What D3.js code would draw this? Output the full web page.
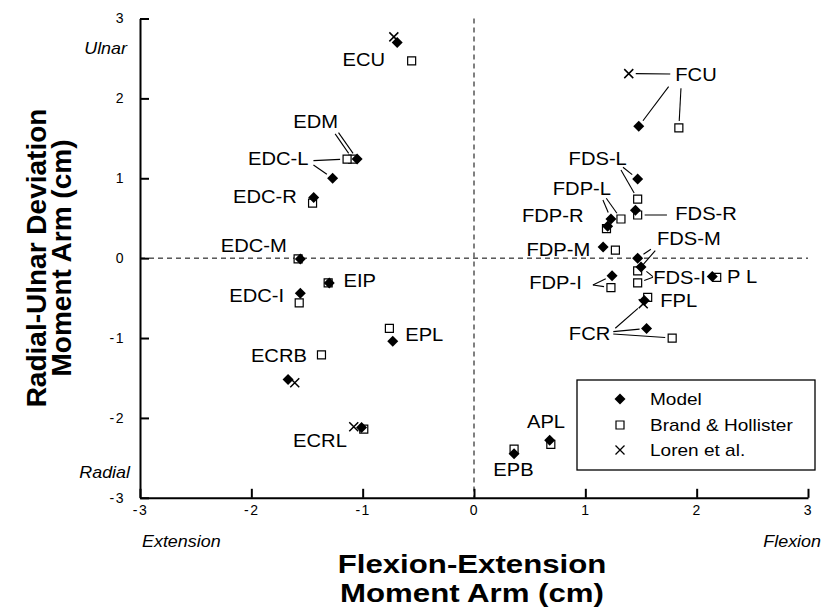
<!DOCTYPE html>
<html>
<head>
<meta charset="utf-8">
<script src="https://cdn.jsdelivr.net/npm/d3@7"></script>
<style>
  html, body { margin: 0; padding: 0; background: #fff; }
  svg { display: block; }
  text { font-family: "Liberation Sans", Arial, Helvetica, sans-serif; fill: #000; }
</style>
</head>
<body>
<svg id="chart" width="825" height="607"></svg>
<script>
// Muscle moment arms at the wrist (cm): flexion-extension (FE) vs radial-ulnar deviation (RU)
const muscles = ["ECU","EDM","EDC-L","EDC-R","EDC-M","EDC-I","EIP","EPL","ECRB","ECRL","EPB","APL",
                 "FCU","FDS-L","FDS-R","FDP-L","FDP-R","FDP-M","FDS-M","FDS-I","PL","FDP-I","FPL","FCR"];
const modelFE = [-0.69,-1.05,-1.27,-1.44,-1.56,-1.56,-1.30,-0.73,-1.67,-1.01, 0.36, 0.68,
                  1.48, 1.47, 1.45, 1.23, 1.20, 1.16, 1.47, 1.50, 2.14, 1.24, 1.53, 1.55];
const modelRU = [ 2.70, 1.24, 1.00, 0.76,-0.01,-0.44,-0.31,-1.04,-1.52,-2.12,-2.45,-2.28,
                  1.65, 0.99, 0.60, 0.49, 0.40, 0.14, 0.00,-0.11,-0.23,-0.22,-0.53,-0.88];
const brandFE = [-0.56,-1.09,-1.14,-1.45,-1.58,-1.57,-1.31,-0.76,-1.37,-0.99, 0.36, 0.69,
                  1.84, 1.47, 1.47, 1.32, 1.19, 1.27, 1.47, 1.47, 2.18, 1.23, 1.56, 1.78];
const brandRU = [ 2.47, 1.24, 1.24, 0.69,-0.01,-0.56,-0.31,-0.88,-1.21,-2.14,-2.39,-2.33,
                  1.63, 0.74, 0.54, 0.49, 0.37, 0.10,-0.16,-0.31,-0.24,-0.37,-0.49,-1.00];
const lorenMuscles = ["ECU","ECRB","ECRL","FCU","FCR"];
const lorenFE = [-0.72,-1.61,-1.08, 1.39, 1.52];
const lorenRU = [ 2.77,-1.56,-2.11, 2.31,-0.57];

// Axis ticks
const feTicks = [-3,-2,-1,0,1,2,3];
const ruTicks = [-3,-2,-1,0,1,2,3];

// Muscle name labels (placed in data units) and their text anchoring
const labelText   = ["ECU","EDM","EDC-L","EDC-R","EDC-M","EDC-I","EIP","ECRB","ECRL","EPL","APL","EPB",
                     "FCU","FDS-L","FDP-L","FDP-R","FDS-R","FDP-M","FDS-M","FDS-I","PL","FDP-I","FPL","FCR"];
const labelFE     = [-0.798,-1.422,-1.487,-1.591,-1.681,-1.705,-1.172,-1.501,-1.142,-0.618, 0.647, 0.355,
                      1.808, 1.111, 0.969, 0.984, 1.808, 1.044, 1.643, 1.610, 2.272, 0.969, 1.673, 1.224];
const labelRU     = [ 2.482, 1.709, 1.251, 0.766, 0.162,-0.465,-0.282,-1.216,-2.280,-0.962,-2.047,-2.642,
                      2.294, 1.251, 0.875, 0.531, 0.551, 0.103, 0.238,-0.242,-0.235,-0.304,-0.538,-0.940];
const labelAnchor = ["end","middle","end","end","end","end","start","end","end","start","middle","middle",
                     "start","middle","middle","end","start","end","start","start","start","end","start","end"];

// Leader lines: from a point beside a label to the marker of one data source
const leaderMuscle = ["EDM","EDM","EDC-L","EDC-L","FCU","FCU","FCU","FDS-L","FDS-L","FDS-R","FDP-L","FDP-L",
                      "FDS-M","FDS-M","FDS-I","FDS-I","FDP-I","FDP-I","FCR","FCR","FCR"];
const leaderSource = ["model","brand","brand","model","loren","model","brand","model","brand","brand","model","brand",
                      "model","brand","model","brand","model","brand","loren","model","brand"];
const leaderFE = [-1.217,-1.247,-1.442,-1.442, 1.763, 1.748, 1.859, 1.338, 1.320, 1.733, 1.158, 1.188,
                   1.589, 1.628, 1.607, 1.607, 1.068, 1.068, 1.269, 1.251, 1.251];
const leaderRU = [ 1.571, 1.555, 1.221, 1.167, 2.306, 2.147, 2.127, 1.138, 1.104, 0.541, 0.729, 0.750,
                   0.111, 0.094,-0.232,-0.239,-0.336,-0.336,-0.878,-0.920,-0.949];

const legendNames = ["Model","Brand & Hollister","Loren et al."];

// ---------------------------------------------------------------------------
const svg = d3.select("#chart");
const SX = 1.12; // horizontal stretch applied to horizontal lettering

const x = d3.scaleLinear().domain([-3, 3]).range([140, 808]);
const y = d3.scaleLinear().domain([-3, 3]).range([497.8, 18.5]);

function label(g, px, py, str, opts) {
  const o = Object.assign({ size: 18, anchor: "start", weight: "normal", style: "normal", sx: SX, dy: "0.35em" }, opts || {});
  return g.append("text")
    .attr("transform", `translate(${px},${py}) scale(${o.sx},1)`)
    .attr("text-anchor", o.anchor)
    .attr("dy", o.dy)
    .style("font-size", o.size + "px")
    .style("font-weight", o.weight)
    .style("font-style", o.style)
    .text(str);
}

// Reference lines at zero
svg.append("line")
  .attr("x1", x(0)).attr("x2", x(0)).attr("y1", y(3)).attr("y2", y(-3))
  .attr("stroke", "#000").attr("stroke-width", 1).attr("stroke-dasharray", "5,4");
svg.append("line")
  .attr("x1", x(-3)).attr("x2", x(3)).attr("y1", y(0)).attr("y2", y(0))
  .attr("stroke", "#000").attr("stroke-width", 1).attr("stroke-dasharray", "5,4");

// Axes with inward ticks
const yAxis = d3.axisLeft(y).tickValues(ruTicks).tickSize(-9).tickSizeOuter(0).tickPadding(15)
  .tickFormat(d => d < 0 ? "-" + Math.abs(d) : String(d));
const xAxis = d3.axisBottom(x).tickValues(feTicks).tickSize(-9).tickSizeOuter(0).tickPadding(7)
  .tickFormat(d => d < 0 ? "-" + Math.abs(d) : String(d));

const gy = svg.append("g").attr("transform", `translate(${x(-3)},0)`).call(yAxis);
const gx = svg.append("g").attr("transform", `translate(0,${y(-3)})`).call(xAxis);
[gx, gy].forEach(g => {
  g.select(".domain").attr("stroke", "#000").attr("stroke-width", 2);
  g.selectAll(".tick line").attr("stroke", "#000").attr("stroke-width", 2);
  g.selectAll(".tick text")
    .style("font-family", '"Liberation Sans", Arial, Helvetica, sans-serif')
    .style("font-size", "14px").style("letter-spacing", "1.5px").attr("fill", "#000");
});

// Direction words
label(svg, 127, y(2.62), "Ulnar",  { size: 16, style: "italic", anchor: "end" });
label(svg, 130, y(-2.68), "Radial", { size: 16, style: "italic", anchor: "end" });
label(svg, 142, 541, "Extension", { size: 16, style: "italic" });
label(svg, 821, 541, "Flexion",   { size: 16, style: "italic", anchor: "end" });

// Axis titles
label(svg, 472, 573, "Flexion-Extension", { size: 26, weight: "bold", anchor: "middle", dy: 0, sx: 1.2 });
label(svg, 472, 602, "Moment Arm (cm)",   { size: 26, weight: "bold", anchor: "middle", dy: 0, sx: 1.2 });
const yt = svg.append("text")
  .attr("transform", "translate(46,258) rotate(-90)")
  .attr("text-anchor", "middle")
  .style("font-size", "28px").style("font-weight", "bold");
yt.append("tspan").attr("x", 0).attr("dy", 0).text("Radial-Ulnar Deviation");
yt.append("tspan").attr("x", 0).attr("dy", 25).text("Moment Arm (cm)");

// Point records for each source
const model = muscles.map((m, i) => ({ m, fe: modelFE[i], ru: modelRU[i] }));
const brand = muscles.map((m, i) => ({ m, fe: brandFE[i], ru: brandRU[i] }));
const loren = lorenMuscles.map((m, i) => ({ m, fe: lorenFE[i], ru: lorenRU[i] }));
const sources = { model, brand, loren };

// Leader lines (drawn under the markers)
const GAP = 7;
const leaders = leaderMuscle.map((m, i) => {
  const t = sources[leaderSource[i]].find(p => p.m === m);
  const x1 = x(leaderFE[i]), y1 = y(leaderRU[i]);
  const tx = x(t.fe), ty = y(t.ru);
  const len = Math.hypot(tx - x1, ty - y1);
  const k = Math.max(0, (len - GAP) / len);
  return { x1, y1, x2: x1 + (tx - x1) * k, y2: y1 + (ty - y1) * k };
});
svg.append("g").selectAll("line").data(leaders).join("line")
  .attr("x1", d => d.x1).attr("y1", d => d.y1).attr("x2", d => d.x2).attr("y2", d => d.y2)
  .attr("stroke", "#000").attr("stroke-width", 1.1);

// Marker shapes
const diamondPath = "M0,-5.5L5.5,0L0,5.5L-5.5,0Z";
const squarePath = "M-4,-4H4V4H-4Z";
const crossPath = "M-4.5,-4.5L4.5,4.5M-4.5,4.5L4.5,-4.5";

function drawSquares(g, data) {
  g.selectAll("path.sq").data(data).join("path").attr("class", "sq")
    .attr("transform", d => `translate(${x(d.fe)},${y(d.ru)})`)
    .attr("d", squarePath).attr("fill", "#fff").attr("stroke", "#000").attr("stroke-width", 1.2);
}
function drawDiamonds(g, data) {
  g.selectAll("path.dm").data(data).join("path").attr("class", "dm")
    .attr("transform", d => `translate(${x(d.fe)},${y(d.ru)})`)
    .attr("d", diamondPath).attr("fill", "#000");
}
function drawCrosses(g, data) {
  g.selectAll("path.cx").data(data).join("path").attr("class", "cx")
    .attr("transform", d => `translate(${x(d.fe)},${y(d.ru)})`)
    .attr("d", crossPath).attr("fill", "none").attr("stroke", "#000").attr("stroke-width", 1.5);
}

const pts = svg.append("g");
drawSquares(pts.append("g"), brand);
drawDiamonds(pts.append("g"), model);
drawCrosses(pts.append("g"), loren);

// Muscle labels
const gl = svg.append("g");
labelText.forEach((t, i) => {
  const el = label(gl, x(labelFE[i]), y(labelRU[i]), t, { size: 18, anchor: labelAnchor[i] });
  if (t === "PL") el.style("letter-spacing", "5px");
});

// Legend
const lg = svg.append("g");
lg.append("rect").attr("x", 577).attr("y", 380).attr("width", 238).attr("height", 90)
  .attr("fill", "#fff").attr("stroke", "#000").attr("stroke-width", 1.3);
const rowY = [399, 425, 450];
legendNames.forEach((name, i) => {
  const cy = rowY[i];
  if (i === 0) lg.append("path").attr("transform", `translate(620,${cy})`).attr("d", diamondPath).attr("fill", "#000");
  if (i === 1) lg.append("path").attr("transform", `translate(620,${cy})`).attr("d", squarePath)
    .attr("fill", "#fff").attr("stroke", "#000").attr("stroke-width", 1.2);
  if (i === 2) lg.append("path").attr("transform", `translate(620,${cy})`).attr("d", crossPath)
    .attr("fill", "none").attr("stroke", "#000").attr("stroke-width", 1.3);
  label(lg, 650, cy, name, { size: 17 });
});
</script>
</body>
</html>
